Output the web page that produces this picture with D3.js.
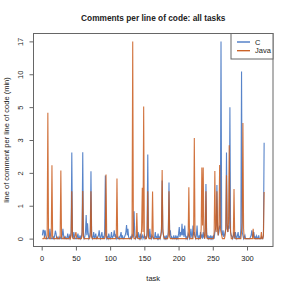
<!DOCTYPE html>
<html>
<head>
<meta charset="utf-8">
<script src="https://cdn.jsdelivr.net/npm/d3@7"></script>
<style>
  html, body { margin: 0; padding: 0; background: #fff; }
  svg { display: block; font-family: "Liberation Sans", Arial, sans-serif; }
</style>
</head>
<body>
<svg id="chart" width="291" height="291"></svg>
<script>
// comments per line of code, one value per task (tasks 1..325)
const cValues = [
  0.1,0.25,0.25,0.05,0.25,0.1,0,0,0,0.05,0,0.3,0.1,0,0,0,0.05,0,0.1,0.24,0.15,0,0,0.05,0,
  0,0.05,0,0,0.1,0.3,0.1,0,0,0.05,0,0,0.15,0.05,0,0.1,0.05,0.2,2.62,0.1,0,0.2,0.05,0,0,
  0,0.05,0.15,0,0,0.1,0,0.05,0.2,2.63,0.1,0,0.05,0.2,0.72,0.1,0.47,0.15,0,0.05,0.2,2.05,0.1,0,0.05,
  0.2,0,0.05,0.15,0,0,0.05,0.1,0.25,0.05,0,0.1,0.2,0,0.05,0,0.2,1.92,0.1,0,0.05,0,0.15,0.05,0,
  0.05,0.2,0,0.05,0.1,0.25,0.05,0.1,0,0.05,0,0,0.05,0,0.1,0.2,0,0.1,0,0,0.05,0.1,0.2,0.41,0.1,
  0.3,0.05,0,0,0.05,0,0.1,0.05,0.2,0.83,0.1,0,0.05,0.1,0,0.2,0.05,0,0.15,0,0.05,0.1,0,0.05,0.1,
  0,0.05,0,0.2,2.56,0.1,0,0.3,0.05,0,0.1,0.05,0,0,0.05,0.2,0,0.05,0,0.15,0,0.05,0,0.1,0.3,
  1.77,0.2,0.1,0,0.05,0,0.1,0,0.05,0.2,1.71,0.1,0.25,0,0.05,0,0,0.1,0,0,0.1,0,0.05,0,0.15,
  0.35,0.05,0.2,0.1,0.45,0.1,0.3,0.05,0.4,0.1,0,0.05,0,0.15,0.1,0,0.05,0.3,0.1,0,0.4,0.1,0.2,0.05,0,
  0.1,0.4,0.05,0,0.1,0,0.2,0.05,0.1,0,0.2,0.05,0,0.3,1.66,0.2,0,0.1,0,0.05,0,0.1,0,0.05,0,
  0.1,0,0.2,0.3,0.4,1.63,0.3,0.1,0.2,0.4,0.3,17,0.2,0.1,0.25,0.05,0.1,0.2,0.3,2.62,0.3,0.2,0.4,0.3,5.0,
  0.2,0.1,0.05,0,0.1,0.2,0,0.2,0.05,0,0.1,0.2,0,0.05,0,0.3,10.6,0.2,0.1,0,0.05,0.1,0,0,0,
  0,0,0,0,0.05,0.1,0.25,0.05,0.1,0.2,0,0.05,0,0.08,0,0,0.1,0,0,0,0.05,0,0,0.1,2.92
];

const javaValues = [
  0,0,0,0.05,0,0,0,0.1,4.66,0.1,0,0,0,0.1,2.23,0.05,0,0,0,0,0,0.05,0,0,0,
  0,0.1,2.07,0.05,0,0,0,0.05,0,0,0,0,0,0,0,0.05,0,0.1,1.44,0.05,0,0,0,0.1,0.2,
  0.05,0,0,0,0,0,0,0,0.1,1.45,0.05,0,0,0,0,0,0,0,0,0,0.1,1.44,0.05,0,0,
  0,0,0,0,0,0.05,0,0,0,0,0,0,0,0,0,0,0,0.1,1.95,0.05,0,0,0,0,0,
  0,0,0,0,0,0,0,0,0.1,1.83,0.05,0,0,0,0,0,0,0,0,0,0,0,0,0,0,
  0,0,0,0,0,0,0.1,17,0.1,0,0,0,0.05,0.78,0.05,0,0,0,0,0,0.3,1.55,0.2,5.1,0.1,
  0,0,0,0.1,1.44,0.05,0,0,0,0,0.1,1.43,0.05,0,0,0,0,0,0,0,0,0,0,0.1,0.2,
  2.09,0.3,0.1,0,0,0,0,0,0,0.1,1.44,0.05,0,0,0,0,0,0,0,0,0,0,0,0,0,
  0,0,0,0,0,0,0,0,0,0,0,0,0,0.1,1.56,0.1,0,0,0,0,0,0.2,3.12,0.1,0,
  0,0,0,0,0,0,0,0.3,2.16,0.4,2.16,0.2,0,0.1,1.44,0.05,0,0,0,0,0,0,0,0,0,
  0,0.2,2.06,0.3,0.2,1.44,0.3,0.1,0.4,2.24,0.3,0.2,0.1,0,0,0,0,0.1,0.3,1.93,0.4,0.2,0.5,2.84,0.6,
  0.2,0,0,0,0.1,1.51,0.1,0,0,0,0,0,0,0,0,0,0.2,0.5,4.04,0.3,0,0,0,0,0,
  0,0,0,0,0,0,0,0,0.3,0,0,0,0,0,0,0,0,0,0,0,0.2,0,0,0.1,1.42
];

const seriesNames = ['C', 'Java'];
const seriesColors = ['#3b6fc0', '#c95a1c'];
const xTicks = [0, 50, 100, 150, 200, 250, 300];
const yTicks = [0, 1, 2, 3, 5, 10, 17];

const svg = d3.select('#chart');
const margin = { left: 33.5, right: 273, top: 33.5, bottom: 246.5 };

const n = cValues.length;
const xPad = (n - 1) * 0.04;
const x = d3.scaleLinear()
    .domain([1 - xPad, n + xPad])
    .range([margin.left, margin.right]);

// y axis has equally spaced ticks at uneven values: piecewise linear scale
const yPad = (yTicks.length - 1) * 0.04;
const yIndex = d3.scaleLinear()
    .domain([-yPad, yTicks.length - 1 + yPad])
    .range([margin.bottom, margin.top]);
const y = d3.scaleLinear()
    .domain(yTicks)
    .range(yTicks.map((d, i) => yIndex(i)));

const textColor = '#222';
const axisColor = '#666';

[cValues, javaValues].forEach((values, k) => {
    svg.append('path')
        .datum(values)
        .attr('fill', 'none')
        .attr('stroke', seriesColors[k])
        .attr('stroke-width', 1.1)
        .attr('stroke-opacity', 0.85)
        .attr('stroke-linejoin', 'miter')
        .attr('d', d3.line().x((d, i) => x(i + 1)).y(d => y(d)));
});

// frame
svg.append('rect')
    .attr('x', margin.left)
    .attr('y', margin.top)
    .attr('width', margin.right - margin.left)
    .attr('height', margin.bottom - margin.top)
    .attr('fill', 'none')
    .attr('stroke', axisColor)
    .attr('stroke-width', 1);

const xAxis = svg.append('g')
    .attr('transform', `translate(0,${margin.bottom})`)
    .call(d3.axisBottom(x).tickValues(xTicks).tickSize(4).tickPadding(5));
xAxis.select('.domain').remove();
xAxis.selectAll('line').attr('stroke', axisColor);
xAxis.selectAll('text').attr('fill', textColor).attr('font-size', 7.5).attr('font-family', null);

const yAxis = svg.append('g')
    .attr('transform', `translate(${margin.left},0)`)
    .call(d3.axisLeft(y).tickValues(yTicks).tickSize(4));
yAxis.select('.domain').remove();
yAxis.selectAll('line').attr('stroke', axisColor);
yAxis.selectAll('text')
    .attr('fill', textColor)
    .attr('font-size', 7.5)
    .attr('font-family', null)
    .attr('x', 0)
    .attr('dy', 0)
    .attr('text-anchor', 'middle')
    .attr('transform', 'translate(-11,0) rotate(-90)');

// titles
svg.append('text')
    .attr('x', (margin.left + margin.right) / 2)
    .attr('y', 20.5)
    .attr('text-anchor', 'middle')
    .attr('font-size', 8.3)
    .attr('font-weight', 'bold')
    .attr('fill', textColor)
    .text('Comments per line of code: all tasks');

svg.append('text')
    .attr('x', (margin.left + margin.right) / 2)
    .attr('y', 281)
    .attr('text-anchor', 'middle')
    .attr('font-size', 7.5)
    .attr('fill', textColor)
    .text('task');

svg.append('text')
    .attr('transform', `translate(8.5,${(margin.top + margin.bottom) / 2}) rotate(-90)`)
    .attr('text-anchor', 'middle')
    .attr('font-size', 7.5)
    .attr('fill', textColor)
    .text('line of comment per line of code (min)');

// legend
const legend = svg.append('g');
legend.append('rect')
    .attr('x', 231)
    .attr('y', margin.top)
    .attr('width', margin.right - 231)
    .attr('height', 25.5)
    .attr('fill', '#fff')
    .attr('stroke', axisColor)
    .attr('stroke-width', 1);

seriesNames.forEach((name, k) => {
    const ly = 42 + k * 8.7;
    legend.append('line')
        .attr('x1', 237).attr('x2', 250)
        .attr('y1', ly).attr('y2', ly)
        .attr('stroke', seriesColors[k])
        .attr('stroke-width', 1.3);
    legend.append('text')
        .attr('x', 255)
        .attr('y', ly + 2.6)
        .attr('font-size', 7.5)
        .attr('fill', textColor)
        .text(name);
});
</script>
</body>
</html>
